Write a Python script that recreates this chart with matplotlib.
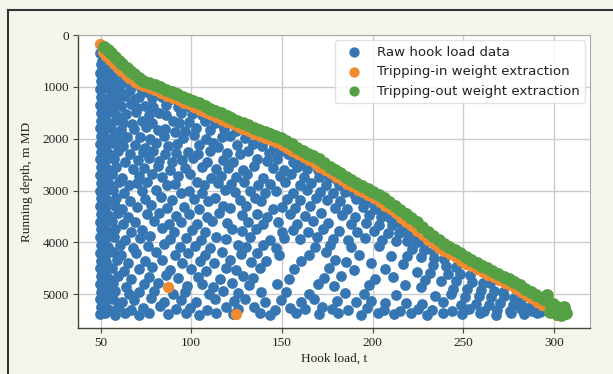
import matplotlib
matplotlib.use("Agg")
import matplotlib.pyplot as plt
from matplotlib.lines import Line2D

# ---------------- data ----------------
# raw hook load points, listed band by band (load in t, depth in m MD)
raw_load_rows = [
    [49.8, 52.3, 54.6, 50.9, 53.2],
    [50.1, 52.8, 55.9, 58.2, 51.0],
    [49.7, 53.4, 56.0, 60.7, 63.9, 51.6],
    [50.2, 52.6, 57.3, 61.2, 65.4, 70.8, 54.5],
    [49.9, 53.1, 56.2, 59.7, 66.1, 72.4, 75.3, 79.8, 61.5],
    [50.3, 52.2, 55.4, 63.2, 68.7, 71.1, 78.4, 83.6, 88.9, 58.9],
    [49.8, 53.7, 57.9, 61.4, 66.8, 74.2, 79.1, 86.3, 92.7, 97.5, 70.3],
    [50.0, 52.4, 56.1, 63.9, 69.5, 76.8, 82.4, 85.9, 94.6, 100.2, 105.8, 59.2],
    [50.2, 53.5, 58.7, 62.1, 72.6, 78.3, 89.7, 93.1, 98.8, 107.4, 112.9, 117.1, 67.2],
    [49.7, 52.1, 55.8, 61.3, 68.2, 74.9, 81.5, 85.7, 96.4, 102.8, 110.6, 118.2, 124.9, 91.0],
    [50.3, 53.0, 57.4, 64.7, 71.9, 77.2, 84.8, 95.6, 101.3, 107.9, 116.7, 121.4, 129.6, 136.3, 140.5, 60.4],
    [49.9, 52.7, 56.8, 62.3, 69.1, 80.6, 87.3, 92.2, 104.5, 111.8, 114.9, 125.3, 133.9, 139.2, 145.6, 150.1, 74.4],
    [50.1, 54.2, 59.5, 66.2, 73.4, 79.0, 85.4, 98.1, 103.7, 110.3, 119.6, 126.8, 131.5, 142.7, 148.3, 153.4, 158.2, 91.8],
    [49.8, 52.4, 57.1, 63.6, 70.7, 76.9, 89.5, 94.8, 101.2, 108.6, 117.3, 123.0, 136.4, 141.8, 147.2, 155.9, 160.7, 165.3, 82.1],
    [50.4, 53.3, 58.3, 67.8, 74.1, 81.7, 88.2, 96.5, 105.9, 113.6, 120.1, 128.4, 134.7, 144.9, 151.3, 158.6, 164.1, 169.8, 173.2],
    [49.9, 52.9, 56.4, 61.7, 71.3, 78.5, 84.0, 92.6, 99.4, 110.8, 116.2, 124.5, 130.9, 139.6, 149.1, 155.0, 162.3, 170.4, 175.8, 180.2],
    [50.2, 54.6, 60.2, 65.9, 69.8, 75.3, 86.7, 90.9, 103.1, 107.2, 114.8, 121.7, 129.3, 136.8, 143.2, 151.9, 159.8, 166.2, 174.5, 181.3, 186.9],
    [49.8, 52.3, 56.9, 63.0, 72.8, 80.4, 94.3, 98.7, 106.1, 118.5, 124.2, 132.3, 140.6, 147.0, 156.4, 163.7, 171.1, 178.4, 184.6, 189.9, 194.1],
    [50.3, 53.6, 58.5, 66.4, 74.6, 83.2, 89.1, 101.6, 109.4, 113.0, 126.7, 134.9, 138.5, 152.6, 160.1, 168.9, 175.0, 182.2, 190.7, 195.8, 199.6],
    [49.9, 52.6, 57.7, 61.9, 70.2, 78.0, 86.5, 96.0, 104.4, 117.7, 121.3, 130.1, 145.3, 149.8, 157.5, 165.7, 179.3, 186.0, 194.9, 201.4, 206.2],
    [50.1, 54.0, 59.8, 64.9, 75.5, 82.3, 91.7, 99.0, 108.8, 115.4, 127.9, 136.2, 142.0, 154.7, 162.8, 171.6, 183.4, 190.1, 198.2, 204.7, 209.9, 213.0],
    [49.7, 52.5, 56.3, 62.6, 68.9, 79.6, 87.8, 94.4, 102.9, 111.7, 119.8, 131.4, 139.3, 147.6, 158.1, 167.4, 175.7, 187.9, 196.4, 203.5, 210.6, 216.3],
    [50.3, 53.4, 58.1, 66.7, 73.0, 84.1, 90.6, 100.5, 107.3, 122.6, 128.0, 135.5, 150.3, 156.0, 164.4, 172.9, 181.7, 191.3, 200.9, 208.4, 214.6, 219.8, 223.1],
    [49.8, 52.2, 57.5, 63.3, 71.6, 77.5, 88.4, 97.2, 105.1, 113.8, 118.9, 132.6, 143.7, 151.1, 159.9, 169.5, 178.2, 186.6, 196.0, 205.3, 212.9, 219.1, 224.7, 228.2],
    [50.2, 53.8, 60.6, 68.0, 75.9, 85.0, 93.9, 102.0, 110.2, 125.7, 130.4, 139.8, 146.9, 168.0, 176.8, 188.3, 203.8, 221.8, 228.5, 233.6],
    [49.9, 52.7, 56.6, 61.4, 69.3, 80.8, 91.0, 98.4, 107.7, 116.9, 127.2, 136.0, 148.5, 165.0, 174.1, 192.5, 210.1, 219.3, 226.7, 233.9, 239.5],
    [50.4, 53.1, 58.9, 65.3, 74.4, 83.8, 95.1, 104.6, 112.4, 121.5, 133.1, 141.4, 160.6, 179.5, 185.3, 199.0, 216.8, 233.3, 240.6, 246.2],
    [49.8, 52.4, 56.2, 62.7, 71.2, 78.1, 88.0, 99.8, 108.3, 119.0, 124.6, 137.7, 156.8, 176.1, 189.6, 206.8, 224.4, 231.6, 241.5, 248.1, 253.9],
    [50.2, 54.3, 59.7, 67.0, 76.5, 86.2, 92.9, 103.9, 115.6, 128.8, 134.3, 153.7, 173.3, 182.8, 201.5, 211.3, 229.2, 238.0, 246.3, 254.9, 260.7, 264.9],
    [49.9, 52.8, 57.0, 63.8, 73.7, 81.9, 97.6, 106.0, 111.9, 122.4, 131.9, 147.4, 169.7, 178.6, 197.9, 218.2, 226.6, 244.5, 252.3, 260.0, 267.3, 272.2],
    [50.3, 53.5, 58.0, 65.8, 70.9, 79.2, 89.9, 96.8, 109.6, 117.5, 126.0, 138.2, 152.0, 164.9, 184.8, 195.2, 212.7, 234.7, 243.1, 250.8, 258.6, 265.4, 272.8, 278.0, 281.9],
    [49.8, 52.6, 56.7, 61.9, 68.4, 77.7, 84.9, 94.2, 102.7, 113.3, 123.8, 129.8, 140.7, 149.3, 160.3, 167.7, 180.2, 190.9, 199.4, 207.0, 218.6, 227.5, 239.1, 248.6, 257.2, 264.0, 270.3, 277.4, 282.6, 287.0],
    [50.2, 53.9, 59.4, 66.5, 73.2, 82.8, 91.4, 99.1, 108.5, 119.4, 125.7, 134.6, 146.1, 154.4, 163.0, 172.4, 177.9, 186.2, 197.0, 206.3, 215.1, 224.9, 232.7, 244.0, 253.2, 261.5, 268.8, 275.9, 281.7, 287.9, 292.5],
    [49.9, 52.5, 57.8, 63.5, 71.0, 76.6, 87.1, 97.0, 104.0, 113.5, 122.8, 138.0, 143.3, 158.0, 170.2, 181.0, 193.4, 202.8, 211.8, 221.5, 229.9, 239.0, 249.3, 259.1, 267.9, 276.2, 283.8, 290.6],
]
raw_depth_rows = [
    [340, 390, 450, 500, 470],
    [560, 610, 590, 640, 660],
    [740, 720, 790, 760, 800, 820],
    [880, 920, 900, 940, 910, 950, 960],
    [1040, 1020, 1080, 1050, 1060, 1030, 1090, 1080, 1110],
    [1190, 1230, 1210, 1180, 1240, 1200, 1220, 1190, 1230, 1260],
    [1350, 1330, 1380, 1360, 1330, 1370, 1390, 1350, 1380, 1360, 1410],
    [1500, 1530, 1490, 1520, 1480, 1550, 1500, 1540, 1510, 1530, 1550, 1560],
    [1650, 1680, 1640, 1700, 1660, 1690, 1650, 1700, 1670, 1660, 1700, 1710, 1720],
    [1800, 1830, 1790, 1840, 1810, 1780, 1830, 1810, 1850, 1790, 1840, 1820, 1860, 1880],
    [1950, 1990, 1940, 1970, 1960, 2000, 1950, 1980, 1930, 2000, 1970, 1940, 1990, 1970, 2010, 2020],
    [2100, 2130, 2090, 2140, 2120, 2080, 2150, 2100, 2120, 2090, 2160, 2130, 2110, 2150, 2140, 2170, 2170],
    [2250, 2280, 2240, 2290, 2260, 2230, 2300, 2260, 2290, 2230, 2270, 2300, 2240, 2280, 2260, 2300, 2320, 2270],
    [2400, 2430, 2390, 2440, 2410, 2380, 2450, 2420, 2380, 2440, 2410, 2450, 2400, 2430, 2390, 2440, 2450, 2470, 2430],
    [2550, 2580, 2540, 2590, 2560, 2530, 2600, 2570, 2540, 2590, 2560, 2600, 2530, 2570, 2600, 2550, 2590, 2600, 2630],
    [2700, 2730, 2690, 2750, 2710, 2680, 2740, 2720, 2690, 2750, 2710, 2730, 2690, 2750, 2720, 2680, 2740, 2730, 2760, 2790],
    [2850, 2880, 2840, 2900, 2860, 2830, 2890, 2870, 2840, 2900, 2860, 2880, 2840, 2900, 2870, 2830, 2890, 2860, 2900, 2890, 2920],
    [3000, 3030, 2990, 3050, 3010, 2980, 3040, 3010, 3050, 2990, 3030, 3000, 3050, 3010, 3040, 2990, 3030, 3050, 3020, 3060, 3080],
    [3150, 3180, 3140, 3200, 3160, 3130, 3190, 3160, 3200, 3140, 3180, 3150, 3200, 3160, 3190, 3140, 3180, 3200, 3170, 3210, 3240],
    [3300, 3330, 3290, 3350, 3310, 3280, 3340, 3310, 3350, 3290, 3330, 3300, 3350, 3310, 3340, 3290, 3330, 3350, 3320, 3360, 3380],
    [3450, 3480, 3440, 3500, 3460, 3430, 3490, 3460, 3500, 3440, 3480, 3450, 3500, 3460, 3490, 3440, 3480, 3500, 3470, 3510, 3520, 3550],
    [3600, 3630, 3590, 3650, 3610, 3580, 3640, 3610, 3650, 3590, 3630, 3600, 3650, 3610, 3640, 3590, 3630, 3650, 3620, 3660, 3670, 3690],
    [3750, 3780, 3740, 3800, 3760, 3730, 3790, 3760, 3800, 3740, 3780, 3750, 3800, 3760, 3790, 3740, 3780, 3800, 3770, 3810, 3820, 3840, 3850],
    [3900, 3930, 3890, 3950, 3910, 3880, 3940, 3910, 3950, 3890, 3930, 3900, 3950, 3910, 3940, 3890, 3930, 3950, 3920, 3960, 3970, 3980, 4000, 4010],
    [4050, 4080, 4040, 4100, 4060, 4030, 4090, 4060, 4100, 4040, 4080, 4050, 4100, 4090, 4040, 4080, 4070, 4120, 4140, 4160],
    [4200, 4230, 4190, 4250, 4210, 4180, 4240, 4210, 4250, 4190, 4230, 4200, 4250, 4240, 4190, 4250, 4260, 4270, 4290, 4300, 4320],
    [4350, 4380, 4340, 4400, 4360, 4330, 4390, 4360, 4400, 4340, 4380, 4350, 4360, 4340, 4380, 4400, 4410, 4440, 4450, 4470],
    [4500, 4530, 4490, 4550, 4510, 4480, 4540, 4510, 4550, 4490, 4530, 4500, 4510, 4490, 4530, 4520, 4570, 4590, 4600, 4610, 4630],
    [4650, 4680, 4640, 4700, 4660, 4630, 4690, 4660, 4700, 4640, 4680, 4700, 4690, 4640, 4700, 4670, 4720, 4740, 4750, 4760, 4780, 4790],
    [4800, 4830, 4790, 4850, 4810, 4780, 4840, 4810, 4850, 4790, 4830, 4800, 4810, 4840, 4830, 4820, 4860, 4890, 4900, 4910, 4930, 4950],
    [4950, 4980, 4940, 5000, 4960, 4930, 4990, 4960, 5000, 4940, 4980, 4950, 4960, 4990, 4980, 5000, 5010, 5040, 5000, 5050, 5030, 5060, 5040, 5080, 5100],
    [5100, 5130, 5090, 5150, 5110, 5080, 5140, 5110, 5150, 5090, 5130, 5100, 5150, 5110, 5140, 5090, 5130, 5150, 5120, 5160, 5170, 5190, 5150, 5200, 5180, 5210, 5170, 5200, 5220, 5240],
    [5250, 5280, 5240, 5300, 5260, 5230, 5290, 5260, 5300, 5240, 5280, 5250, 5300, 5260, 5290, 5240, 5280, 5300, 5270, 5310, 5320, 5290, 5310, 5330, 5280, 5320, 5300, 5330, 5290, 5320, 5340],
    [5380, 5360, 5390, 5370, 5390, 5360, 5380, 5370, 5390, 5360, 5380, 5370, 5390, 5360, 5380, 5370, 5390, 5360, 5380, 5370, 5390, 5360, 5380, 5370, 5390, 5360, 5380, 5370],
]

trip_in_load = [
    49.5, 51.2, 53.1, 55.0, 57.4, 59.6, 61.5, 63.8, 65.9, 68.7,
    71.1, 74.0, 77.2, 80.1, 83.4, 86.8, 89.7, 93.0, 95.8, 98.6,
    101.5, 104.9, 107.6, 110.5, 113.8, 116.9, 119.6, 122.8, 126.1, 128.7,
    131.9, 134.8, 138.1, 140.7, 143.9, 146.9, 149.8, 153.0, 155.7, 158.9,
    162.0, 164.8, 168.1, 170.7, 174.0, 176.9, 179.8, 183.1, 185.9, 188.6,
    191.8, 195.0, 197.7, 200.9, 204.0, 206.7, 210.1, 212.8, 215.9, 218.7,
    222.0, 224.8, 227.9, 230.7, 234.0, 236.9, 239.7, 243.0, 245.8, 248.9,
    251.7, 255.0, 257.8, 260.9, 263.7, 267.0, 269.8, 272.9, 275.7, 279.0,
    281.8, 284.9, 287.7, 291.0, 293.6, 296.9, 299.5, 301.8,
    87.0, 124.6,
]
trip_in_depth = [
    180, 330, 400, 480, 560, 630, 700, 770, 830, 900,
    950, 990, 1030, 1070, 1120, 1170, 1210, 1260, 1310, 1340,
    1380, 1440, 1490, 1530, 1580, 1630, 1670, 1720, 1770, 1810,
    1860, 1900, 1940, 1980, 2020, 2060, 2120, 2180, 2240, 2300,
    2360, 2410, 2470, 2540, 2610, 2670, 2740, 2800, 2870, 2920,
    2980, 3030, 3090, 3150, 3220, 3290, 3360, 3440, 3520, 3600,
    3680, 3770, 3860, 3950, 4030, 4100, 4160, 4220, 4280, 4350,
    4410, 4460, 4520, 4570, 4620, 4670, 4730, 4780, 4830, 4900,
    4960, 5020, 5080, 5140, 5200, 5260, 5320, 5390,
    4860, 5375,
]

trip_out_load = [
    52.0, 53.8, 55.5, 57.9, 60.2, 61.6, 64.3, 66.1, 68.4, 71.2,
    73.6, 76.4, 79.8, 82.5, 85.9, 89.4, 92.1, 95.6, 98.3, 101.2,
    104.0, 107.4, 110.2, 113.1, 116.3, 119.5, 122.1, 125.4, 128.6, 131.2,
    134.5, 137.3, 140.6, 143.2, 146.4, 149.5, 152.3, 155.6, 158.2, 161.4,
    164.5, 167.3, 170.6, 173.2, 176.5, 179.4, 182.3, 185.6, 188.4, 191.1,
    194.3, 197.5, 200.2, 203.4, 206.5, 209.2, 212.6, 215.3, 218.4, 221.2,
    224.5, 227.3, 230.4, 233.2, 236.5, 239.4, 242.2, 245.5, 248.3, 251.4,
    254.2, 257.5, 260.3, 263.4, 266.2, 269.5, 272.3, 275.4, 278.2, 281.5,
    284.3, 287.4, 290.2, 293.5, 296.1, 299.4, 302.0, 304.6, 306.5,
    300.8, 298.2, 303.9, 296.5, 301.7, 305.8,
]
trip_out_depth = [
    235, 290, 340, 420, 500, 560, 640, 700, 760, 830,
    880, 920, 965, 1000, 1055, 1105, 1140, 1195, 1240, 1270,
    1305, 1370, 1425, 1465, 1510, 1560, 1600, 1650, 1700, 1740,
    1790, 1830, 1875, 1910, 1950, 1990, 2050, 2110, 2170, 2230,
    2290, 2340, 2400, 2470, 2540, 2600, 2670, 2730, 2800, 2850,
    2910, 2960, 3020, 3080, 3150, 3220, 3290, 3370, 3450, 3530,
    3610, 3700, 3790, 3880, 3960, 4030, 4090, 4150, 4210, 4280,
    4340, 4390, 4450, 4500, 4550, 4600, 4660, 4710, 4760, 4830,
    4890, 4950, 5010, 5070, 5130, 5190, 5250, 5310, 5370,
    5300, 5350, 5390, 5020, 5380, 5240,
]

x_ticks = [50, 100, 150, 200, 250, 300]
y_ticks = [0, 1000, 2000, 3000, 4000, 5000]
labels = ["Raw hook load data", "Tripping-in weight extraction",
          "Tripping-out weight extraction"]
colors = ["#3677b3", "#f28a30", "#55a044"]

# ---------------- figure ----------------
W, H = 613, 374
fig = plt.figure(figsize=(W / 100, H / 100), dpi=100, facecolor="#f4f6ec")
ax = fig.add_axes([78 / W, 1 - 328 / H, (590 - 78) / W, (328 - 35) / H])
ax.set_facecolor("white")

raw_load, raw_depth = [], []
for lr, dr in zip(raw_load_rows, raw_depth_rows):
    for x, d in zip(lr, dr):
        raw_load.append(x)
        raw_depth.append(d)

ax.scatter(raw_load, raw_depth, s=60, color=colors[0], linewidths=0,
           label=labels[0], zorder=2)
ax.scatter(trip_in_load, trip_in_depth, s=66, color=colors[1], linewidths=0,
           label=labels[1], zorder=3)
ax.scatter(trip_out_load, trip_out_depth, s=85, color=colors[2], linewidths=0,
           label=labels[2], zorder=4)

ax.set_xlim(37.5, 320)
ax.set_ylim(5650, 0)
ax.set_xticks(x_ticks)
ax.set_yticks(y_ticks)
ax.grid(True, color="#cccccc", linewidth=1.0)
ax.set_axisbelow(True)

serif = "Liberation Serif"
for lab in ax.get_xticklabels() + ax.get_yticklabels():
    lab.set_fontfamily(serif)
    lab.set_fontsize(9.5)
    lab.set_color("#222222")
ax.tick_params(direction="out", length=3.5, width=0.8, color="#444444", pad=3)

ax.set_xlabel("Hook load, t", fontfamily=serif, fontsize=9.5, color="#222222",
              labelpad=3)
ax.set_ylabel("Running depth, m MD", fontfamily=serif, fontsize=9.5,
              color="#222222", labelpad=7)

for side in ("left", "bottom"):
    ax.spines[side].set_color("#444444")
    ax.spines[side].set_linewidth(1.0)
for side in ("top", "right"):
    ax.spines[side].set_color("#aaaaaa")
    ax.spines[side].set_linewidth(0.8)

leg = ax.legend(loc="upper right", prop={"family": "DejaVu Sans", "size": 9.6},
                frameon=True, fancybox=True, framealpha=0.85,
                edgecolor="#dddddd", borderaxespad=0.4, handletextpad=0.7,
                labelspacing=0.5, scatterpoints=1)
for h in leg.legend_handles:
    h.set_sizes([55])
for t in leg.get_texts():
    t.set_color("#222222")

# outer frame of the figure (top and left edges visible)
fig.add_artist(Line2D([8 / W, 1.0], [1 - 10 / H, 1 - 10 / H],
                      transform=fig.transFigure, color="#333333", lw=1.5))
fig.add_artist(Line2D([8 / W, 8 / W], [0.0, 1 - 10 / H],
                      transform=fig.transFigure, color="#333333", lw=1.5))

fig.savefig("out.png", dpi=100, facecolor=fig.get_facecolor())
